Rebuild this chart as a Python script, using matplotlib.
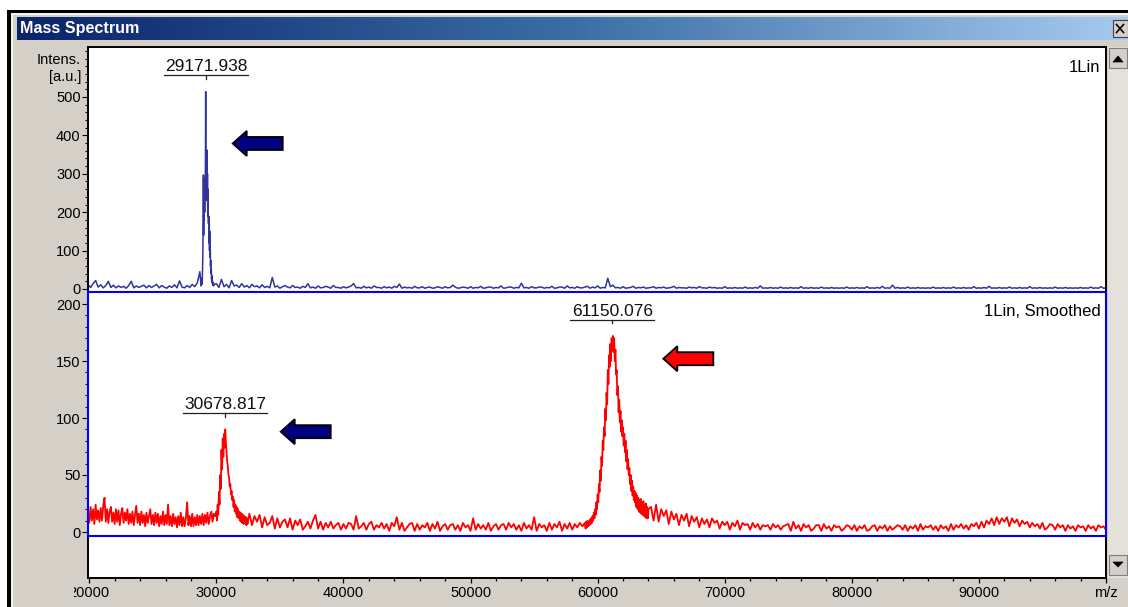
import numpy as np
import matplotlib
matplotlib.use('Agg')
import matplotlib.pyplot as plt
from matplotlib.patches import Rectangle, Polygon
from matplotlib.lines import Line2D
from matplotlib.colors import LinearSegmentedColormap
import matplotlib.transforms as mtransforms
from matplotlib.ticker import FixedLocator

# ---------------- data ----------------
# top spectrum (1Lin): intensities on evenly spaced m/z samples, in segments
top_left_start, top_left_step = 19900, 200
top_left_int = [12, 4, 14, 22, 5, 11, 3, 9, 20, 4, 10, 3, 8, 4, 7, 2, 9, 20, 3, 8,
                4, 7, 10, 3, 9, 4, 8, 12, 3, 9, 5, 2, 8, 4, 11, 3, 21, 5, 3, 9,
                4, 12, 6, 16, 45]
top_peak_start, top_peak_step = 28800, 20
top_peak_int = [8, 14, 28, 12, 20, 35, 60, 100, 160, 297, 140, 270, 180, 290, 200, 280,
                240, 330, 514, 240, 360, 260, 340, 362, 230, 300, 190, 260, 187, 170,
                190, 120, 180, 100, 150, 83, 110, 60, 75, 40, 55, 25, 35, 18, 25, 12,
                18, 10, 14, 8, 12]
top_right_start, top_right_step = 30000, 200
top_right_int = [14, 4, 25, 6, 12, 3, 22, 8, 10, 4, 14, 5, 9, 3, 12, 6, 8, 3, 11, 4,
                 7, 3, 30, 5, 8, 2, 6, 9, 5, 3, 9, 4, 5, 2, 7, 4, 14, 3, 5, 2,
                 8, 3, 4, 7, 5, 2, 9, 4, 4, 2, 6, 3, 5, 8, 14, 3, 4, 2, 7, 3,
                 5, 2, 8, 4, 4, 2, 6, 3, 5, 2, 7, 4, 13, 2, 5, 3, 4, 2, 7, 3,
                 3, 6, 2, 4, 5, 2, 3, 6, 4, 2, 6, 3, 4, 10, 5, 2, 3, 5, 4, 2,
                 6, 2, 4, 3, 7, 2, 3, 5, 5, 2, 4, 3, 8, 2, 3, 5, 5, 2, 4, 3,
                 15, 3, 4, 2, 6, 3, 3, 5, 5, 2, 4, 3, 7, 2, 3, 5, 5, 2, 8, 3,
                 4, 2, 6, 3, 3, 5, 7, 2, 5, 3, 8, 2, 4, 3, 28, 6, 10, 3, 4, 2,
                 6, 2, 3, 4, 7, 2, 4, 3, 5, 2, 3, 4, 6, 2, 4, 3, 5, 2, 3, 4,
                 7, 2, 4, 3, 3, 2, 5, 3, 4, 2, 6, 3, 3, 2, 5, 3, 4, 2, 3, 2,
                 6, 2, 3, 2, 4, 2, 3, 2, 5, 2, 3, 2, 4, 2, 8, 2, 3, 2, 4, 2,
                 3, 2, 5, 2, 3, 2, 4, 2, 3, 2, 6, 2, 3, 2, 4, 2, 3, 2, 5, 2,
                 3, 2, 4, 2, 3, 2, 3, 2, 5, 2, 3, 2, 4, 2, 3, 2, 6, 2, 3, 2,
                 4, 2, 7, 2, 3, 2, 10, 2, 4, 2, 3, 2, 5, 2, 3, 2, 4, 2, 3, 2,
                 3, 2, 5, 2, 3, 2, 4, 2, 3, 2, 5, 2, 3, 2, 4, 2, 3, 2, 6, 2,
                 3, 2, 4, 2, 7, 2, 3, 2, 4, 2, 3, 2, 5, 2, 3, 2, 4, 2, 3, 2,
                 6, 2, 3, 2, 4, 2, 3, 2, 3, 2, 5, 2, 3, 2, 4, 2, 3, 2, 3, 2,
                 4, 2, 3, 2, 5, 2, 3, 2, 6, 2, 3]

# bottom spectrum (1Lin, Smoothed)
bot_a_start, bot_a_step = 19900, 100
bot_a_int = [18, 8, 22, 10, 20, 7, 24, 11, 19, 9,
             21, 10, 23, 30, 9, 20, 8, 18, 22, 9,
             17, 7, 20, 9, 19, 6, 16, 21, 8, 17,
             10, 20, 7, 16, 8, 18, 6, 15, 23, 8,
             16, 6, 18, 8, 15, 5, 17, 8, 14, 20,
             7, 15, 6, 17, 8, 16, 5, 14, 7, 18,
             6, 15, 7, 24, 6, 14, 5, 16, 7, 13,
             4, 14, 6, 17, 5, 13, 5, 12, 26, 6,
             14, 5, 16, 5, 13, 6, 15, 6, 14, 7,
             16, 6, 15, 8, 17, 7, 14, 18, 9, 16, 14]
bot_p1_start, bot_p1_step = 30000, 50
bot_p1_int = [18, 10, 24, 15, 35, 24, 50, 38, 72, 55, 82, 66, 86, 74, 90, 78, 70, 62, 58, 50,
              48, 40, 42, 33, 36, 28, 31, 22, 28, 18, 24, 16, 22, 13, 20, 12, 18, 10, 17, 9,
              16, 8, 15, 7, 14, 8, 13, 6, 12, 7, 11]
bot_b_start, bot_b_step = 32600, 200
bot_b_int = [16, 6, 14, 9, 15, 4, 13, 6, 8, 14,
             3, 12, 4, 9, 11, 4, 12, 2, 10, 6,
             11, 2, 5, 9, 3, 10, 15, 3, 9, 2,
             8, 4, 9, 3, 6, 8, 2, 7, 3, 8,
             7, 2, 14, 3, 5, 8, 2, 7, 9, 2,
             6, 4, 8, 3, 7, 1, 8, 5, 13, 2,
             8, 1, 4, 7, 8, 1, 7, 2, 6, 4,
             8, 1, 7, 3, 9, 1, 5, 7, 2, 6,
             7, 2, 6, 1, 8, 4, 6, 1, 12, 2,
             7, 3, 6, 2, 8, 1, 5, 7, 2, 6,
             7, 2, 8, 4, 7, 2, 6, 1, 8, 3,
             6, 2, 13, 1, 7, 4, 6, 1, 8, 2,
             7, 4, 9, 1, 7, 3, 8, 2, 7, 4, 8, 5]
bot_p2_start, bot_p2_step = 59000, 50
bot_p2_int = [8, 3, 9, 4, 10, 5, 9, 6, 11, 7,
              12, 8, 14, 10, 17, 12, 20, 15, 26, 20,
              33, 26, 42, 35, 54, 45, 66, 58, 80, 72,
              92, 84, 108, 98, 122, 112, 142, 130, 155, 145,
              165, 150, 170, 160, 172, 158, 170, 150, 160, 138,
              142, 120, 128, 105, 116, 96, 106, 88, 98, 84,
              92, 76, 86, 70, 80, 62, 72, 55, 64, 50,
              56, 42, 50, 36, 45, 32, 40, 28, 36, 26,
              34, 22, 32, 20, 30, 18, 28, 17, 29, 16,
              26, 15, 27, 14, 24, 13, 25, 12, 22, 12,
              20]
bot_c_start, bot_c_step = 64200, 200
bot_c_int = [22, 10, 24, 9, 20, 14, 19, 7, 18, 11,
             16, 6, 15, 10, 16, 5, 14, 9, 13, 4,
             12, 7, 11, 4, 12, 8, 10, 3, 9, 6,
             9, 2, 8, 5, 10, 2, 8, 6, 7, 2,
             8, 4, 7, 2, 6, 5, 6, 2, 7, 4,
             6, 2, 5, 6, 7, 1, 9, 3, 6, 1,
             7, 4, 6, 1, 3, 6, 6, 1, 7, 3,
             5, 1, 6, 4, 5, 1, 3, 6, 5, 2,
             6, 1, 5, 3, 6, 1, 2, 5, 6, 1,
             5, 3, 6, 1, 5, 2, 4, 6, 5, 2,
             6, 1, 5, 3, 6, 1, 7, 2, 5, 4,
             6, 2, 5, 1, 6, 3, 5, 1, 7, 2,
             6, 4, 7, 3, 6, 2, 7, 5, 8, 3,
             9, 4, 10, 7, 12, 6, 13, 7, 12, 9,
             13, 5, 12, 8, 11, 5, 10, 7, 9, 4,
             8, 5, 7, 3, 8, 2, 4, 7, 6, 2,
             7, 4, 6, 1, 6, 3, 5, 1, 6, 4,
             5, 1, 6, 3, 5, 1, 6, 4, 5, 2]

top_peak_labels = [29171.938]
top_label_heights = [557]
bot_peak_labels = [30678.817, 61150.076]
bot_label_heights = [104, 186]

x_major = [20000, 30000, 40000, 50000, 60000, 70000, 80000, 90000, 100000]
x_labels = ['20000', '30000', '40000', '50000', '60000', '70000', '80000', '90000', 'm/z']
top_y_major = [0, 100, 200, 300, 400, 500]
bot_y_major = [0, 50, 100, 150, 200]

# arrows: (pane, tip m/z, tip intensity, colour)
arrow_specs = [('top', 31286, 379, '#000080'),
               ('bot', 35063, 88, '#000080'),
               ('bot', 65168, 152, '#ff0000')]


def seg(start, step, vals):
    return start + step * np.arange(len(vals)), np.array(vals, dtype=float)


def join(*segs):
    return (np.concatenate([s[0] for s in segs]),
            np.concatenate([s[1] for s in segs]))


top_x, top_y = join(seg(top_left_start, top_left_step, top_left_int),
                    seg(top_peak_start, top_peak_step, top_peak_int),
                    seg(top_right_start, top_right_step, top_right_int))
bot_x, bot_y = join(seg(bot_a_start, bot_a_step, bot_a_int),
                    seg(bot_p1_start, bot_p1_step, bot_p1_int),
                    seg(bot_b_start, bot_b_step, bot_b_int),
                    seg(bot_p2_start, bot_p2_step, bot_p2_int),
                    seg(bot_c_start, bot_c_step, bot_c_int))

# ---------------- figure ----------------
plt.rcParams['font.family'] = ['Liberation Sans', 'DejaVu Sans']
W, H = 1128, 607
fig = plt.figure(figsize=(W / 100, H / 100), dpi=100, facecolor='white')

GRAY = '#d4d0c8'

ax_bg = fig.add_axes([0, 0, 1, 1], zorder=-5)
ax_bg.set_xlim(0, W)
ax_bg.set_ylim(H, 0)
ax_bg.axis('off')
ax_bg.add_patch(Rectangle((7, 10), W, H, fc='black', ec='none'))
ax_bg.add_patch(Rectangle((11, 13), W, H, fc='#f4f3ee', ec='none'))
ax_bg.add_patch(Rectangle((13, 15), W, H, fc=GRAY, ec='none'))
# title bar gradient
cmap = LinearSegmentedColormap.from_list('tb', ['#0a246a', '#3a6ea5', '#a6caf0'])
grad = np.linspace(0, 1, 256).reshape(1, -1)
ax_bg.imshow(grad, extent=(17, W, 40, 17), aspect='auto', cmap=cmap, zorder=1)
ax_bg.set_xlim(0, W)
ax_bg.set_ylim(H, 0)
ax_bg.text(20, 29, 'Mass Spectrum', color='white', fontsize=11.6, fontweight='bold',
           ha='left', va='center', zorder=2)
# close button
ax_bg.add_patch(Rectangle((1113, 20), 15, 17, fc=GRAY, ec='#404040', lw=0.8, zorder=2))
ax_bg.plot([1116.5, 1123.5], [24.5, 32.5], color='black', lw=1.2, zorder=3)
ax_bg.plot([1116.5, 1123.5], [32.5, 24.5], color='black', lw=1.2, zorder=3)
# scrollbar
ax_bg.add_patch(Rectangle((1108, 47), 20, 531, fc='#e4e1da', ec='none', zorder=1))
ax_bg.add_patch(Rectangle((1109, 48), 18, 20, fc=GRAY, ec='#808080', lw=0.8, zorder=2))
ax_bg.add_patch(Polygon([(1113, 62), (1123, 62), (1118, 56)], closed=True, fc='black', ec='black', lw=0.5, zorder=3))
ax_bg.add_patch(Rectangle((1109, 555), 18, 20, fc=GRAY, ec='#808080', lw=0.8, zorder=2))
ax_bg.add_patch(Polygon([(1113, 562), (1123, 562), (1118, 567)], closed=True, fc='black', ec='black', lw=0.5, zorder=3))


def px_axes(x, y, w, h):
    return fig.add_axes([x / W, 1 - (y + h) / H, w / W, h / H])


ax_top = px_axes(88, 47, 1018, 245)
ax_bot = px_axes(88, 292, 1018, 286)

XL = (19900, 100000)
for ax in (ax_top, ax_bot):
    ax.set_facecolor('white')
    ax.set_xlim(*XL)
    for s in ax.spines.values():
        s.set_color('black')
        s.set_linewidth(1.4)

ax_top.set_ylim(-(292 - 289) / 0.384, (289 - 47) / 0.384)
ax_bot.set_ylim(-(578 - 532) / 1.14, (532 - 292) / 1.14)
ax_top.spines['bottom'].set_visible(False)
ax_bot.spines['top'].set_visible(False)

ax_top.plot(top_x, top_y, color='#33339a', lw=1.1)
ax_bot.plot(bot_x, bot_y, color='#ff0000', lw=1.3)

# blue frame of the lower (active) pane
ylo, yhi = ax_bot.get_ylim()
ax_bot.add_patch(Rectangle((XL[0], -3.5), XL[1] - XL[0], yhi + 3.5, fill=False,
                           ec='#0000ff', lw=1.5, clip_on=False, zorder=5))

# ticks
tick_kw = dict(direction='out', colors='black', labelsize=10.5)
ax_top.yaxis.set_major_locator(FixedLocator(top_y_major))
ax_top.yaxis.set_minor_locator(FixedLocator(list(range(0, 640, 20))))
ax_bot.yaxis.set_major_locator(FixedLocator(bot_y_major))
ax_bot.yaxis.set_minor_locator(FixedLocator(list(range(0, 210, 10))))
for ax in (ax_top, ax_bot):
    ax.tick_params(axis='y', which='major', length=4.3, width=0.8, pad=1.0, **tick_kw)
    ax.tick_params(axis='y', which='minor', length=2.5, width=0.8, **tick_kw)
ax_top.tick_params(axis='x', which='both', bottom=False, labelbottom=False)

ax_bot.xaxis.set_major_locator(FixedLocator(x_major))
ax_bot.set_xticklabels(x_labels)
ax_bot.xaxis.set_minor_locator(FixedLocator(list(range(20000, 100001, 2000))))
ax_bot.tick_params(axis='x', which='major', length=3.8, width=0.9, pad=2.2, **tick_kw)
ax_bot.tick_params(axis='x', which='minor', length=2.2, width=0.9, **tick_kw)

clip_rect = Rectangle((73.5, 0), W, H, transform=ax_bg.transData, visible=False)
fig.add_artist(clip_rect)
first_lbl = ax_bot.xaxis.get_major_ticks()[0].label1
first_lbl.set_clip_on(True)
first_lbl.set_clip_path(clip_rect)

# axis unit labels
for txt, yv in (('Intens.', 600), ('[a.u.]', 557)):
    ax_top.annotate(txt, xy=(0, yv), xycoords=('axes fraction', 'data'), xytext=(-7, 0),
                    textcoords='offset pixels', ha='right', va='center_baseline', fontsize=10.5)

# pane titles
ax_top.text(0.9941, 0.899, '1Lin', transform=ax_top.transAxes, ha='right', va='baseline', fontsize=12)
ax_bot.text(0.9951, 0.916, '1Lin, Smoothed', transform=ax_bot.transAxes, ha='right', va='baseline', fontsize=12)


def offset_trans(ax, x, y):
    return mtransforms.IdentityTransform() + mtransforms.ScaledTranslation(x, y, ax.transData)


def peak_label(ax, mz, yline):
    tr = offset_trans(ax, mz, yline)
    ax.add_artist(Line2D([-42, 42], [0, 0], transform=tr, color='#202020', lw=0.9, clip_on=False))
    ax.add_artist(Line2D([0, 0], [0, -3.5], transform=tr, color='#202020', lw=0.9, clip_on=False))
    ax.annotate(f'{mz:.3f}', xy=(mz, yline), xytext=(0, 4), textcoords='offset pixels',
                ha='center', va='baseline', fontsize=12.5, color='#101010')


for mz, yl in zip(top_peak_labels, top_label_heights):
    peak_label(ax_top, mz, yl)
for mz, yl in zip(bot_peak_labels, bot_label_heights):
    peak_label(ax_bot, mz, yl)

arrow_verts = [(0, 0), (14, 12.5), (14, 6.5), (50, 6.5), (50, -6.5), (14, -6.5), (14, -12.5)]
for which, mz, yv, col in arrow_specs:
    ax = ax_top if which == 'top' else ax_bot
    ax.add_patch(Polygon(arrow_verts, closed=True, fc=col, ec='black', lw=1.3,
                         transform=offset_trans(ax, mz, yv), clip_on=False, zorder=6))

fig.savefig('out.png', dpi=100, facecolor='white')
